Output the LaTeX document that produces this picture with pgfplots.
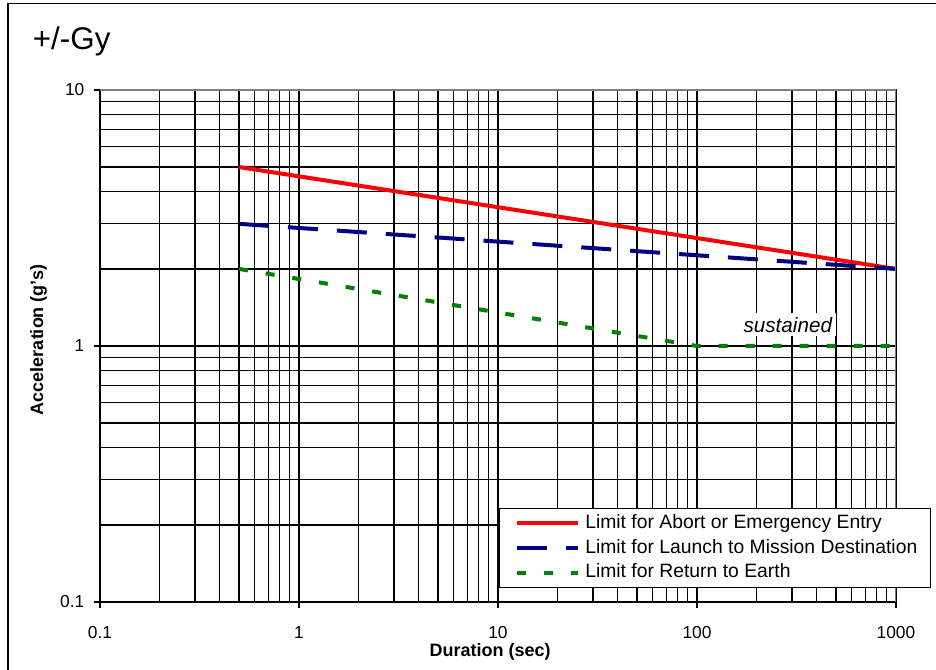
\documentclass[border=0pt]{standalone}
\usepackage{fontspec}
\setmainfont{Liberation Sans}
\usepackage{pgfplots}
\pgfplotsset{compat=1.18}
\definecolor{xlred}{RGB}{255,0,0}
\definecolor{xlnavy}{RGB}{0,0,128}
\definecolor{xlgreen}{RGB}{0,128,0}
\begin{document}
\begin{tikzpicture}
\path[use as bounding box] (0pt,0pt) rectangle (702pt,502.5pt);
\fill[white] (0pt,0pt) rectangle (702pt,502.5pt);
\draw[black, line width=1.2pt] (6pt,-10pt) -- (6pt,499.9pt) -- (712pt,499.9pt);
\node[anchor=base west, font=\fontsize{23.5}{28}\selectfont, inner sep=0pt] at (24.5pt,465pt) {+/-Gy};
\begin{axis}[
  at={(75pt,51pt)}, anchor=south west,
  width=597pt, height=384pt, scale only axis,
  xmode=log, ymode=log,
  xmin=0.1, xmax=1000, ymin=0.1, ymax=10,
  xtick={0.1,1,10,100,1000}, xticklabels={0.1,1,10,100,1000},
  ytick={0.1,1,10}, yticklabels={0.1,1,10},
  minor xtick={0.2,0.3,0.4,0.5,0.6,0.7,0.8,0.9,2,3,4,5,6,7,8,9,20,30,40,50,60,70,80,90,200,300,400,500,600,700,800,900},
  minor ytick={0.2,0.3,0.4,0.5,0.6,0.7,0.8,0.9,2,3,4,5,6,7,8,9},
  grid=both,
  major grid style={black, line width=0.9pt},
  minor grid style={black, line width=0.9pt},
  tick align=outside, major tick length=4.5pt, minor tick length=0pt,
  tick style={black, line width=0.9pt},
  xtick pos=bottom, ytick pos=left,
  axis line style={black, line width=1.2pt},
  ticklabel style={font=\fontsize{13}{15}\selectfont},
  xticklabel style={yshift=-10.5pt},
  yticklabel style={xshift=-3.75pt},
  label style={font=\bfseries\fontsize{13.5}{16}\selectfont},
  xlabel={Duration (sec)}, ylabel={Acceleration (g's)},
  xlabel style={at={(axis description cs:0.49,-0.106)}, anchor=base},
  ylabel style={at={(axis description cs:-0.0716,0.512)}, anchor=base},
  legend cell align=left,
  legend image code/.code={\path (-2pt,0pt); \draw[#1] (0pt,0pt) -- (45.75pt,0pt);},
  legend style={at={(0.501,0.1836)}, anchor=north west, draw=black, line width=0.75pt, fill=white,
    font=\fontsize{14.5}{17}\selectfont, inner xsep=10pt, inner ysep=4.25pt, row sep=4.4pt, column sep=3.75pt,
    nodes={inner sep=0pt, text height=11pt, text depth=3pt}},
]
\addplot[xlred, line width=3pt] coordinates {(0.5,5) (1000,2)};
\addlegendentry{Limit for Abort or Emergency Entry}
\addplot[xlnavy, line width=3pt, dash pattern=on 22.5pt off 14.25pt] coordinates {(0.5,3) (1000,2)};
\addlegendentry{Limit for Launch to Mission Destination}
\addplot[xlgreen, line width=3pt, dash pattern=on 6.75pt off 13.5pt] coordinates {(0.5,2) (100,1) (1000,1)};
\addlegendentry{Limit for Return to Earth}
\node[font=\itshape\fontsize{15.5}{18}\selectfont, fill=white, inner xsep=3pt, inner ysep=3pt, anchor=base] at (axis cs:286,1.134) {sustained};
\draw[gray, line width=1.1pt] (rel axis cs:0,1) -- (rel axis cs:1,1) -- (rel axis cs:1,0);
\end{axis}
\end{tikzpicture}
\end{document}
